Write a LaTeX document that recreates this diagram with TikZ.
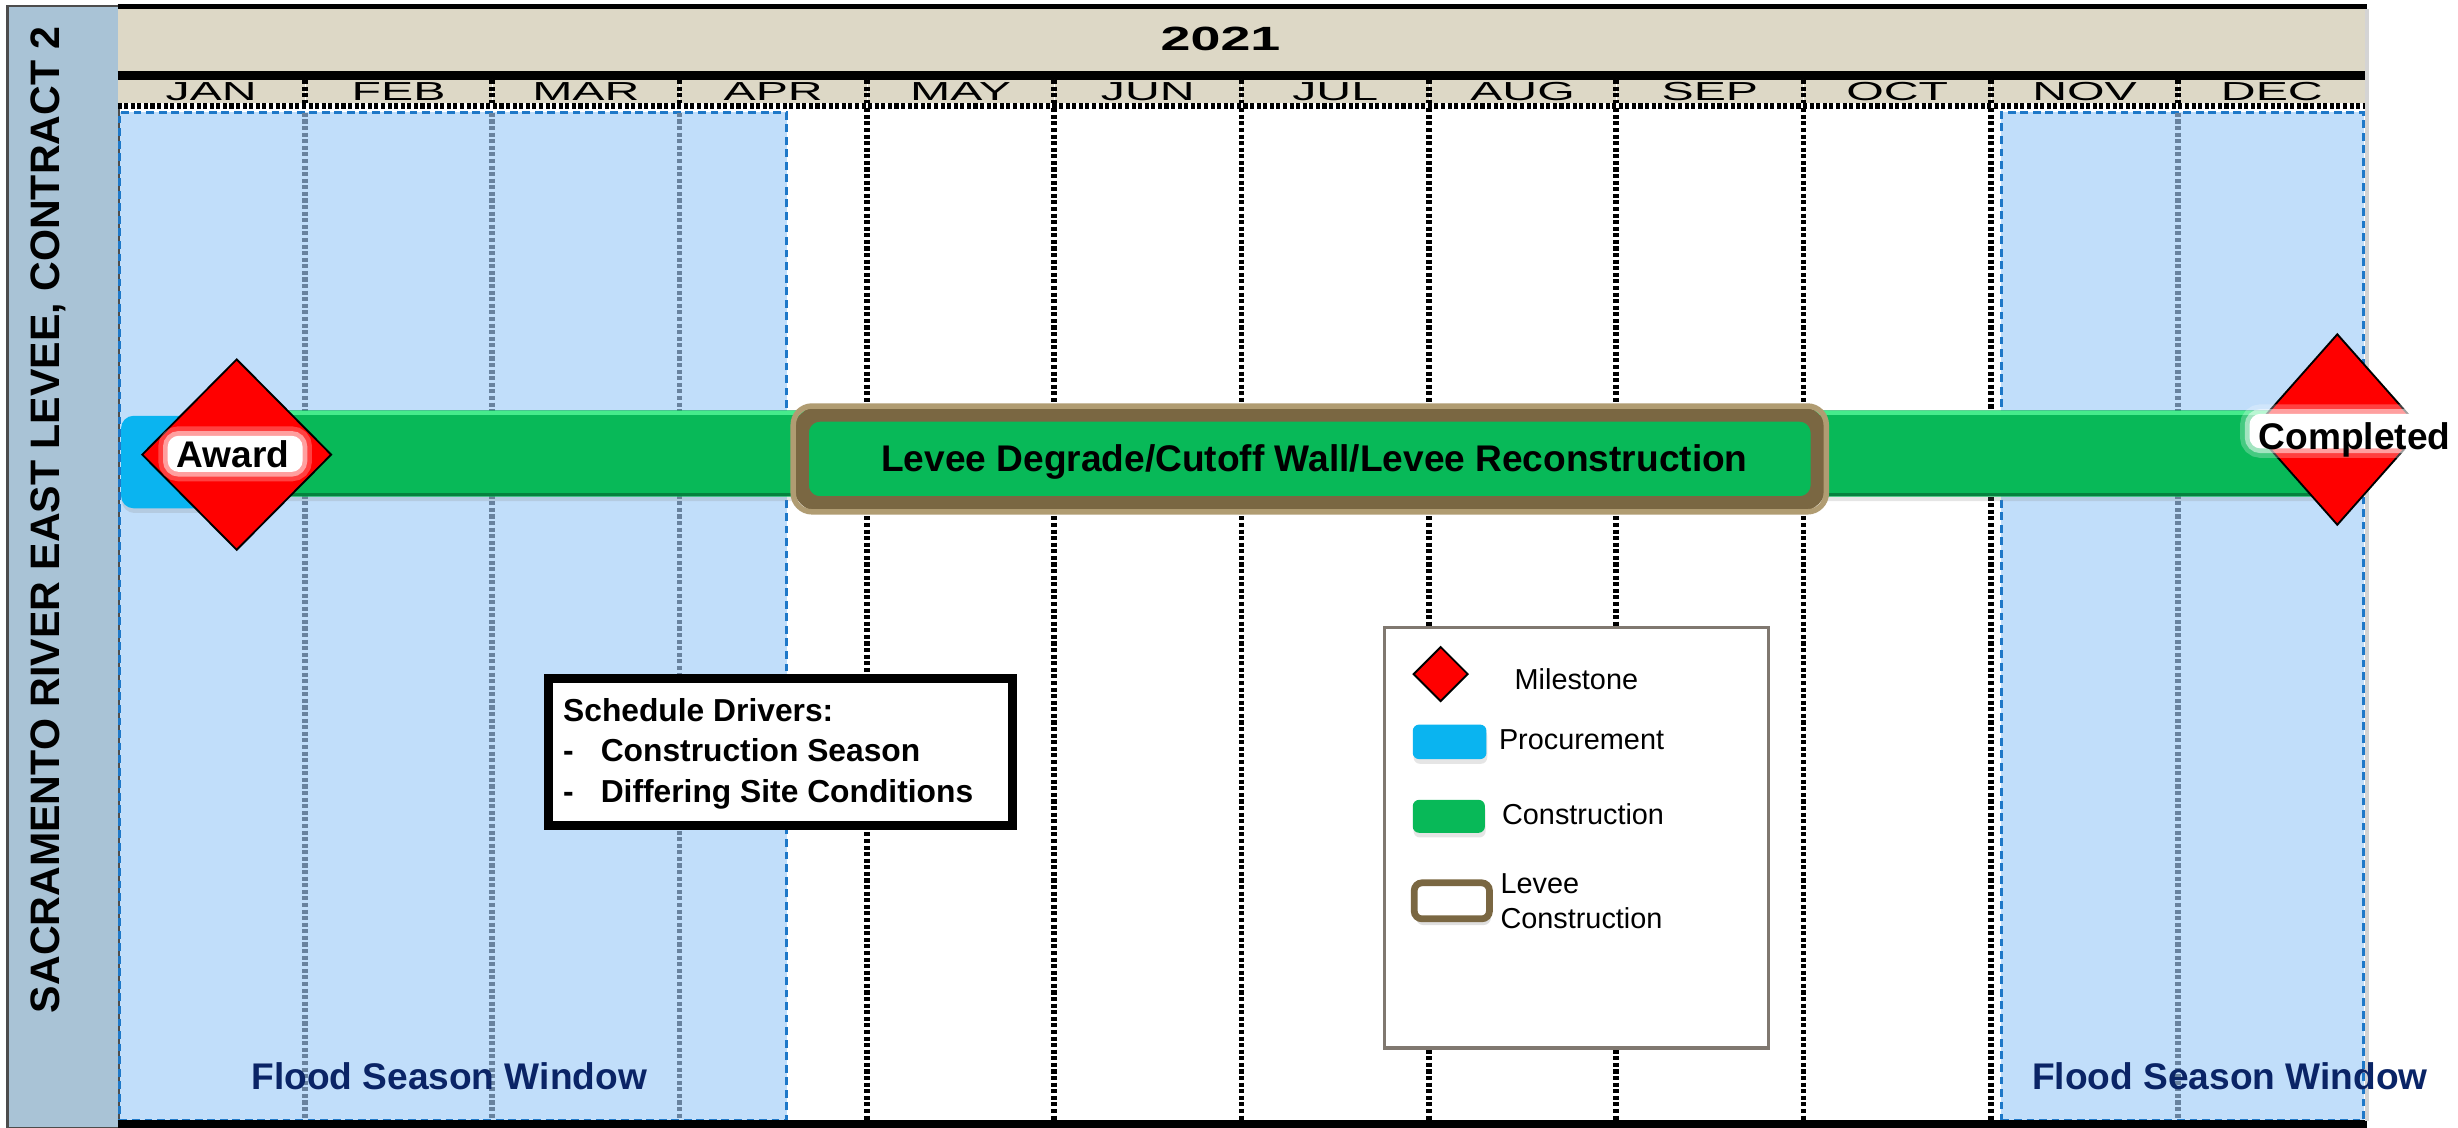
\documentclass[tikz,border=0pt]{standalone}
\usepackage{graphicx}
\usepackage{fontspec}
\setmainfont{Liberation Sans}
\usetikzlibrary{shapes.geometric,shadows,positioning}

\newlength{\px}\setlength{\px}{0.03cm}
\definecolor{sidebar}{RGB}{169,195,214}
\definecolor{headtan}{RGB}{221,216,198}
\definecolor{floodblue}{RGB}{193,222,250}
\definecolor{flooddash}{RGB}{30,120,200}
\definecolor{gridgray}{RGB}{104,130,158}
\definecolor{navy}{RGB}{10,36,102}
\definecolor{buildgreen}{RGB}{8,185,88}
\definecolor{buildlight}{RGB}{70,235,140}
\definecolor{builddark}{RGB}{5,130,62}
\definecolor{procblue}{RGB}{10,180,240}
\definecolor{leveebrown}{RGB}{122,103,66}
\definecolor{leveelight}{RGB}{176,156,114}
\definecolor{milered}{RGB}{255,0,0}
\definecolor{legendgray}{RGB}{128,120,112}

\newcommand{\stretched}[2]{\scalebox{#1}[1]{#2}}

\begin{document}
\begin{tikzpicture}
    [x=0.03cm, y=-0.03cm,
     milestone/.style={diamond, draw=black, line width=1.2\px, fill=milered, inner sep=0},
     bar/.style={inner sep=0, drop shadow={shadow xshift=0.5\px, shadow yshift=-3\px, opacity=0.2}},
     leveebox/.style={draw=leveebrown, rounded corners=12\px, inner sep=0,
       drop shadow={shadow xshift=1\px, shadow yshift=-4\px, opacity=0.25}},
     glow/.style={fill=white, draw=white, line width=2\px, rounded corners=6\px, inner sep=0,
       preaction={draw=white, line width=14\px, draw opacity=0.25},
       preaction={draw=white, line width=8\px, draw opacity=0.5}},
     flood/.style={fill=floodblue, draw=flooddash, line width=1.5\px, dash pattern=on 5\px off 3\px, inner sep=0},
     boldtext/.style={font=\bfseries\fontsize{20.2}{22}\selectfont, inner sep=0, anchor=base},
     drivertext/.style={font=\bfseries\fontsize{17.3}{20}\selectfont, inner sep=0, anchor=base west},
     legendtext/.style={font=\fontsize{15.7}{18}\selectfont, inner sep=0, anchor=base west},
     monthlabel/.style={font=\fontsize{14.2}{15}\selectfont, inner sep=0, anchor=base},
     checker/.style={line width=3.5\px, dash pattern=on 2.6\px off 1.6\px, preaction={draw=white, solid}},
     gridline/.style={gridgray, line width=3.5\px, dash pattern=on 2.6\px off 1.6\px}]
    \useasboundingbox (0,0) rectangle (1568,719);
    \fill[white] (0,0) rectangle (1568,719);

    % project name on the left
    \node[draw=black!70, line width=1.5\px, fill=sidebar, minimum width=71\px, minimum height=716\px,
      inner sep=0, anchor=north west] (side) at (4,3) {};
    \node[rotate=90, anchor=base, inner sep=0, font=\bfseries\fontsize{22.4}{24}\selectfont]
      (project) at (38,331.5) {SACRAMENTO RIVER EAST LEVEE, CONTRACT 2};

    % year and months
    \fill[headtan] (75,4) rectangle (1510,66);
    \draw[line width=3\px] (75,4.2) -- (1510,4.2);
    \draw[line width=6\px] (75,48) -- (1510,48);
    \node[anchor=base, inner sep=0, font=\bfseries\fontsize{18.3}{20}\selectfont]
      (year) at (778.6,31.9) {\stretched{1.6}{2021}};
    \foreach \m [count=\i] in {JAN,FEB,MAR,APR,MAY,JUN,JUL,AUG,SEP,OCT,NOV,DEC}
      \node[monthlabel] (month\i) at ({75+119.5*(\i-0.5)},63.8) {\stretched{1.85}{\m}};

    % flood season windows
    \node[flood, minimum width=425.5\px, minimum height=643\px, anchor=north west] (floodL) at (75.5,71) {};
    \node[flood, minimum width=231\px, minimum height=643\px, anchor=north west] (floodR) at (1276,71) {};

    % month dividers
    \foreach \k in {1,...,11}
      \draw[checker] ({75+119.5*\k},51) -- ({75+119.5*\k},66);
    \foreach \k in {4,...,10}
      \draw[checker] ({75+119.5*\k},69) -- ({75+119.5*\k},715);
    \foreach \k in {1,2,3,11}
      \draw[gridline] ({75+119.5*\k},72) -- ({75+119.5*\k},713);
    \draw[checker] (75,67.5) -- (1510,67.5);
    \draw[line width=4.5\px] (75,717) -- (1510,717);
    \draw[black!17, line width=3\px] (1510,6) -- (1510,715);

    \node[boldtext, navy] (floodLtext) at (286.5,695) {Flood Season Window};
    \node[boldtext, navy] (floodRtext) at (1422.5,695) {Flood Season Window};

    % bars
    \node[bar, fill=procblue, rounded corners=8\px, minimum width=80\px, minimum height=59\px,
      anchor=north west] (procure) at (77,265) {};
    \node[bar, fill=buildgreen, rounded corners=3\px, minimum width=1340\px, minimum height=55\px,
      anchor=north west] (build) at (140,261.5) {};
    \draw[buildlight, line width=3\px] ([xshift=3\px,yshift=-2\px]build.north west) -- ([xshift=-3\px,yshift=-2\px]build.north east);
    \draw[builddark, line width=2\px] ([xshift=3\px,yshift=1.5\px]build.south west) -- ([xshift=-3\px,yshift=1.5\px]build.south east);

    \node[leveebox, line width=10\px, fill=buildgreen, minimum width=649\px, minimum height=57.5\px,
      anchor=north west] (levee) at (506,259) {};
    \draw[leveelight, line width=3.5\px, rounded corners=12\px] (levee.north west) rectangle (levee.south east);
    \node[boldtext] (leveetext) at (838.5,301) {Levee Degrade/Cutoff Wall/Levee Reconstruction};

    % milestones
    \node[milestone, minimum width=121\px, minimum height=122\px] (award) at (151,290) {};
    \node[glow, minimum width=84\px, minimum height=21\px] (awardglow) at (150,289.5) {};
    \node[boldtext] (awardtext) at (148.5,298) {Award};

    \node[milestone, minimum width=108\px, minimum height=122\px] (done) at (1491,274) {};
    \node[glow, minimum width=122\px, minimum height=20\px] (doneglow) at (1497,275) {};
    \node[boldtext] (donetext) at (1502,287) {Completed};

    % schedule drivers
    \node[draw=black, line width=5.6\px, fill=white, minimum width=296\px, minimum height=94\px,
      inner sep=0, anchor=north west] (drivers) at (347,430) {};
    \node[drivertext] (d1) at (359,460) {Schedule Drivers:};
    \node[drivertext] (d2) at (359,486) {\makebox[24\px][l]{-}Construction Season};
    \node[drivertext] (d3) at (359,512) {\makebox[24\px][l]{-}Differing Site Conditions};

    % legend
    \node[draw=legendgray, line width=2\px, fill=white, minimum width=245\px, minimum height=268\px,
      inner sep=0, anchor=north west] (legend) at (882,399.5) {};
    \node[milestone, minimum width=35\px, minimum height=35\px] (legmile) at (919,430) {};
    \node[legendtext] (legmiletext) at (966,440) {Milestone};
    \node[bar, fill=procblue, rounded corners=4\px, minimum width=47\px, minimum height=22\px,
      anchor=north west] (legproc) at (901,462) {};
    \node[legendtext] (legproctext) at (956,478) {Procurement};
    \node[bar, fill=buildgreen, rounded corners=4\px, minimum width=46\px, minimum height=21\px,
      anchor=north west] (legbuild) at (901,510) {};
    \node[legendtext] (legbuildtext) at (958,526) {Construction};
    \node[leveebox, rounded corners=5\px, line width=4.3\px, fill=white, minimum width=48\px, minimum height=23\px,
      anchor=north west] (leglevee) at (900,561) {};
    \node[legendtext] (legleveetext) at (957,570) {Levee};
    \node[legendtext] (legleveetext2) at (957,592) {Construction};
  \end{tikzpicture}
\end{document}
